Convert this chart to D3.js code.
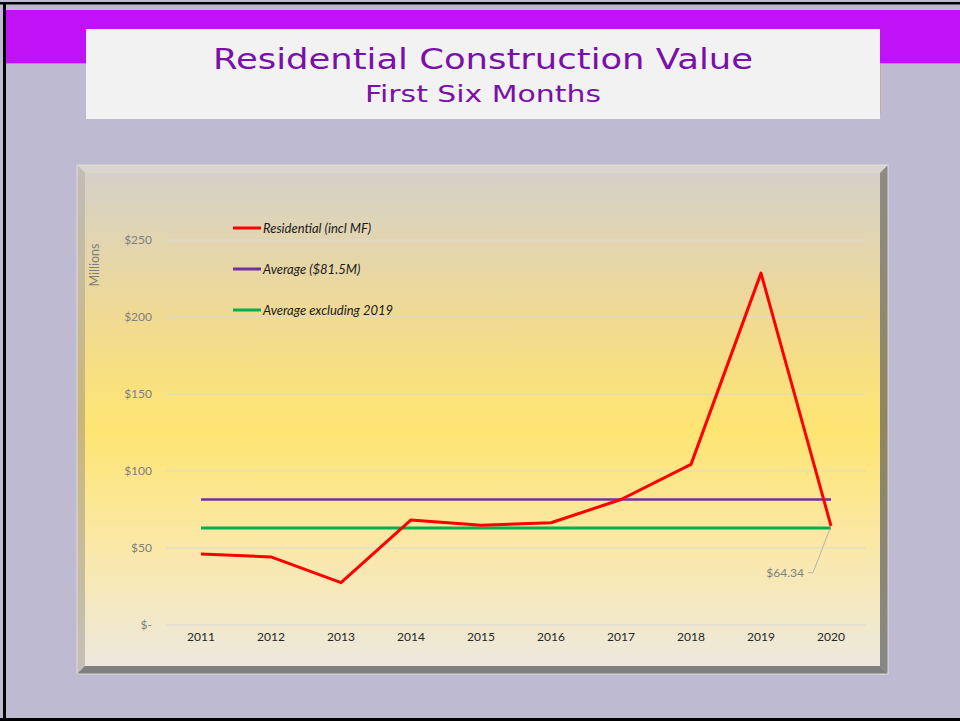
<!DOCTYPE html>
<html><head><meta charset="utf-8">
<script src="https://cdn.jsdelivr.net/npm/d3@7"></script>
<style>html,body{margin:0;padding:0;background:#bebad2;}svg{display:block;}</style>
</head><body>
<script>
const years = ["2011","2012","2013","2014","2015","2016","2017","2018","2019","2020"];
const residential = [46.1, 44.2, 27.5, 68.2, 64.7, 66.4, 81.5, 104.3, 228.5, 64.34];
const averageAll = 81.5;
const averageExcl2019 = 63.0;
const yTicks = [0, 50, 100, 150, 200, 250];
const legendLabels = ["Residential (incl MF)", "Average ($81.5M)", "Average excluding 2019"];
const titleText = "Residential Construction Value";
const subtitleText = "First Six Months";

const W = 960, H = 721;
const svg = d3.select("body").append("svg").attr("width", W).attr("height", H);
const defs = svg.append("defs");

// page background
svg.append("rect").attr("width", W).attr("height", H).attr("fill", "#bebad2");
svg.append("rect").attr("x", 0).attr("y", 2).attr("width", W).attr("height", 2.5).attr("fill", "#000");
svg.append("rect").attr("x", 3).attr("y", 2).attr("width", 3).attr("height", H).attr("fill", "#000");
svg.append("rect").attr("x", 0).attr("y", 718).attr("width", W).attr("height", 3).attr("fill", "#000");
svg.append("rect").attr("x", 6).attr("y", 10).attr("width", W - 6).attr("height", 53).attr("fill", "#c112f7");
svg.append("rect").attr("x", 6).attr("y", 63).attr("width", W - 6).attr("height", 0.8).attr("fill", "#c98a5a");

// title box
svg.append("rect").attr("x", 86).attr("y", 29).attr("width", 794).attr("height", 90).attr("fill", "#f2f2f2");
svg.append("rect").attr("x", 880).attr("y", 63).attr("width", 0.8).attr("height", 50).attr("fill", "#c9a09a");
svg.append("text").attr("x", 483).attr("y", 68.5).attr("text-anchor", "middle")
  .attr("font-family", "DejaVu Sans").attr("font-size", 28.5).attr("fill", "#7a10a8")
  .attr("textLength", 540).attr("lengthAdjust", "spacingAndGlyphs").text(titleText);
svg.append("text").attr("x", 483).attr("y", 101.5).attr("text-anchor", "middle")
  .attr("font-family", "DejaVu Sans").attr("font-size", 23).attr("fill", "#7a10a8")
  .attr("textLength", 236).attr("lengthAdjust", "spacingAndGlyphs").text(subtitleText);

// chart frame
const fx0 = 77, fy0 = 165, fx1 = 888, fy1 = 674, bv = 8;
const face = defs.append("linearGradient").attr("id", "face").attr("x1", 0).attr("y1", 0).attr("x2", 0).attr("y2", 1);
[[0, "#d5d1c9"], [0.3, "#f1da92"], [0.52, "#fee572"], [0.75, "#fbe8a6"], [1, "#ece8de"]]
  .forEach(([o, c]) => face.append("stop").attr("offset", o).attr("stop-color", c));
const leftG = defs.append("linearGradient").attr("id", "leftbev").attr("x1", 0).attr("y1", 0).attr("x2", 0).attr("y2", 1);
[[0, "#c2beb8"], [0.5, "#c9b77a"], [1, "#c3c0b8"]].forEach(([o, c]) => leftG.append("stop").attr("offset", o).attr("stop-color", c));
const rightG = defs.append("linearGradient").attr("id", "rightbev").attr("x1", 0).attr("y1", 0).attr("x2", 0).attr("y2", 1);
[[0, "#8d8b86"], [0.5, "#8f8660"], [1, "#878787"]].forEach(([o, c]) => rightG.append("stop").attr("offset", o).attr("stop-color", c));

const poly = (pts, fill) => svg.append("polygon").attr("points", pts.map(p => p.join(",")).join(" ")).attr("fill", fill);
poly([[fx0, fy0], [fx1, fy0], [fx1 - bv, fy0 + bv], [fx0 + bv, fy0 + bv]], "#d9d6d0");
poly([[fx0, fy0], [fx0 + bv, fy0 + bv], [fx0 + bv, fy1 - bv], [fx0, fy1]], "url(#leftbev)");
poly([[fx1, fy0], [fx1, fy1], [fx1 - bv, fy1 - bv], [fx1 - bv, fy0 + bv]], "url(#rightbev)");
poly([[fx0, fy1], [fx0 + bv, fy1 - bv], [fx1 - bv, fy1 - bv], [fx1, fy1]], "#7f7f7f");
svg.append("rect").attr("x", fx0 + bv).attr("y", fy0 + bv).attr("width", fx1 - fx0 - 2 * bv).attr("height", fy1 - fy0 - 2 * bv).attr("fill", "url(#face)");
svg.append("rect").attr("x", fx0).attr("y", fy0).attr("width", fx1 - fx0).attr("height", fy1 - fy0)
  .attr("fill", "none").attr("stroke", "#e8e6e2").attr("stroke-width", 0.8);

// scales
const x = d3.scaleBand().domain(years).range([166, 866]);
const xc = d => x(d) + x.bandwidth() / 2;
const y = d3.scaleLinear().domain([0, 250]).range([625, 240]);

// grid
svg.append("g").selectAll("line").data(yTicks).join("line")
  .attr("x1", 166).attr("x2", 866).attr("y1", d => y(d)).attr("y2", d => y(d))
  .attr("stroke", "#d9d9d9").attr("stroke-width", 1);

// y axis
const yAxis = d3.axisLeft(y).tickValues(yTicks).tickSize(0).tickPadding(0)
  .tickFormat(d => d === 0 ? "$-" : "$" + d);
const yg = svg.append("g").attr("transform", "translate(152,0)").call(yAxis);
yg.select(".domain").remove();
yg.selectAll("text").attr("font-family", "Lato").attr("font-size", 12).attr("fill", "#7f7f7f");

svg.append("text").attr("transform", "translate(99,265) rotate(-90)").attr("text-anchor", "middle")
  .attr("font-family", "Lato").attr("font-size", 12.5).attr("fill", "#7f7f7f").text("Millions");

// x axis
const xAxis = d3.axisBottom(x).tickSize(0).tickPadding(0);
const xg = svg.append("g").attr("transform", "translate(0,632)").call(xAxis);
xg.select(".domain").remove();
xg.selectAll("text").attr("font-family", "Lato").attr("font-size", 12).attr("fill", "#262626");

// lines
const line = d3.line().x((d, i) => xc(years[i])).y(d => y(d));
svg.append("path").datum(years.map(() => averageAll)).attr("d", line)
  .attr("fill", "none").attr("stroke", "#7030a0").attr("stroke-width", 2.5);
svg.append("path").datum(years.map(() => averageExcl2019)).attr("d", line)
  .attr("fill", "none").attr("stroke", "#00b050").attr("stroke-width", 3);
svg.append("path").datum(residential).attr("d", line)
  .attr("fill", "none").attr("stroke", "#ff0000").attr("stroke-width", 3).attr("stroke-linejoin", "round");

// data label for 2020
const lastX = xc(years[9]), lastY = y(residential[9]);
svg.append("polyline").attr("points", `${lastX - 23},${y(34)} ${lastX - 18},${y(34)} ${lastX},${lastY}`)
  .attr("fill", "none").attr("stroke", "#a6a6a6").attr("stroke-width", 0.8);
svg.append("text").attr("x", lastX - 27).attr("y", y(34) + 4).attr("text-anchor", "end")
  .attr("font-family", "Lato").attr("font-size", 12).attr("fill", "#7f7f7f")
  .text("$" + residential[9].toFixed(2));

// legend
const legColors = ["#ff0000", "#7030a0", "#00b050"];
const legY = [228, 269, 310];
const leg = svg.append("g").selectAll("g").data(legendLabels).join("g")
  .attr("transform", (d, i) => `translate(233,${legY[i]})`);
leg.append("line").attr("x1", 0).attr("x2", 28).attr("stroke", (d, i) => legColors[i]).attr("stroke-width", 3);
leg.append("text").attr("x", 30).attr("y", 4.5).attr("font-family", "Lato").attr("font-style", "italic")
  .attr("font-size", 13).attr("fill", "#1a1a1a").text(d => d);
</script>
</body></html>
